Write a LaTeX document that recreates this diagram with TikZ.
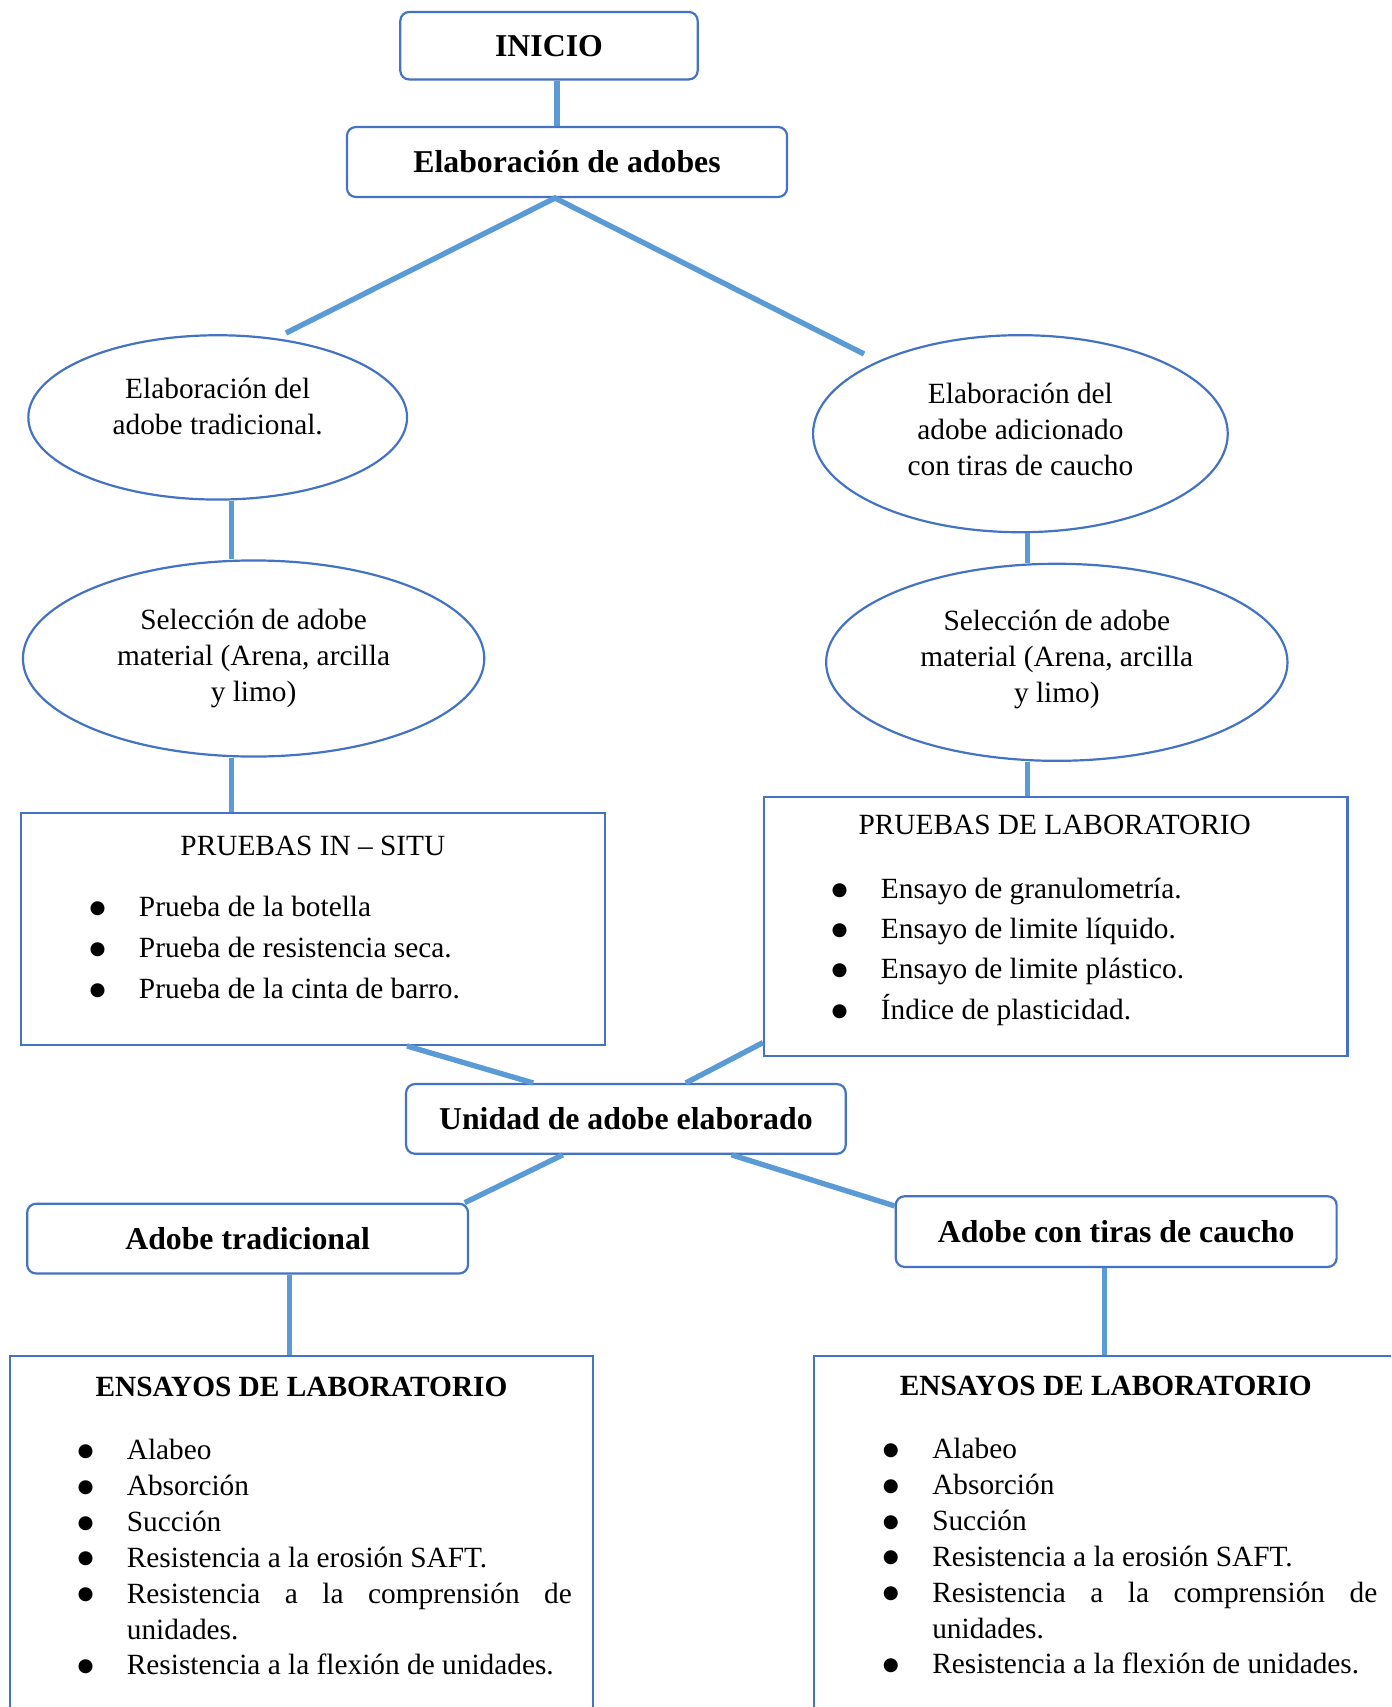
\documentclass[tikz,border=0pt]{standalone}
\usepackage{fontspec}
\setmainfont{Liberation Serif}
\newfontfamily\symfont{DejaVu Sans}
\usetikzlibrary{shapes.geometric}
\definecolor{linea}{HTML}{5B9BD5}
\definecolor{borde}{HTML}{4472C4}
\newcommand\bul{\hspace*{2.1pt}\makebox[0pt]{\raisebox{1.3pt}{\symfont\fontsize{7.5}{7.5}\selectfont ●}}}
\tikzset{
  conn/.style={draw=linea,line width=2.2pt},
  caja/.style={draw=borde,line width=0.9pt,rounded corners=3.6pt,inner sep=0pt,font=\fontsize{13}{15}\selectfont\bfseries},
  elip/.style={draw=borde,line width=0.9pt,ellipse,inner sep=0pt,align=center,font=\fontsize{12}{14.7}\selectfont},
  marco/.style={draw=borde,line width=0.9pt,inner sep=0pt},
  titulo/.style={inner sep=0pt,anchor=base,font=\fontsize{12}{14.7}\selectfont},
  lista/.style={inner sep=0pt,anchor=base west,font=\fontsize{12}{14.7}\selectfont},
}

\begin{document}
\begin{tikzpicture}[x=0.409pt,y=-0.409pt]
\useasboundingbox (0,0) rectangle (1391,1707);
\clip (0,0) rectangle (1391,1707);
\node[caja,minimum width=121.6pt,minimum height=27.6pt] (inicio) at (549,45.7) {INICIO}; % inicio
\node[caja,minimum width=180pt,minimum height=28.6pt] (elab) at (567,162) {Elaboración de adobes}; % elab
\node[elip,minimum width=154.9pt,minimum height=67.2pt,text depth=9pt] (ell1) at (217.7,417.4) {Elaboración del\\adobe tradicional.}; % ell1
\node[elip,minimum width=169.6pt,minimum height=80.6pt,text depth=3.6pt] (ell2) at (1020.4,433.7) {Elaboración del\\adobe adicionado\\con tiras de caucho}; % ell2
\node[elip,minimum width=188.7pt,minimum height=80.2pt] (ell3) at (253.6,658.5) {Selección de adobe\\material (Arena, arcilla\\y limo)}; % ell3
\node[elip,minimum width=188.7pt,minimum height=80.6pt,text depth=4.6pt] (ell4) at (1056.8,662.3) {Selección de adobe\\material (Arena, arcilla\\y limo)}; % ell4
\node[marco,minimum width=239pt,minimum height=94.8pt] (insitu) at (312.9,929) {}; % insitu
\node[marco,minimum width=238.6pt,minimum height=105.9pt] (lab) at (1055.8,926.2) {}; % lab
\node[caja,minimum width=179.8pt,minimum height=28.5pt] (unidad) at (625.9,1118.9) {Unidad de adobe elaborado}; % unidad
\node[caja,minimum width=180.3pt,minimum height=28.5pt] (trad) at (247.6,1238.6) {Adobe tradicional}; % trad
\node[caja,minimum width=180.3pt,minimum height=28.9pt] (tiras) at (1116.2,1231.6) {Adobe con tiras de caucho}; % tiras
\node[marco,minimum width=238.6pt,minimum height=165pt] (ens1) at (301.5,1558) {}; % ens1
\node[marco,minimum width=238.6pt,minimum height=165pt] (ens2) at (1105.5,1557.5) {}; % ens2

\node[titulo] (insituT) at (312.9,855.3) {PRUEBAS IN – SITU}; % insitu
\node[lista,font=\fontsize{12}{16.8}\selectfont] (insituL) at (92,916.5) {\begin{tabular}[t]{@{}p{19pt}@{}l@{}}
\bul & Prueba de la botella\\
\bul & Prueba de resistencia seca.\\
\bul & Prueba de la cinta de barro.
\end{tabular}}; % insitu
\node[titulo] (labT) at (1054.7,834.3) {PRUEBAS DE LABORATORIO}; % lab
\node[lista,font=\fontsize{12}{16.5}\selectfont] (labL) at (834,898.3) {\begin{tabular}[t]{@{}p{19pt}@{}l@{}}
\bul & Ensayo de granulometría.\\
\bul & Ensayo de limite líquido.\\
\bul & Ensayo de limite plástico.\\
\bul & Índice de plasticidad.
\end{tabular}}; % lab
\node[titulo,font=\fontsize{12}{14.7}\selectfont\bfseries] (ens1T) at (301.5,1396.7) {ENSAYOS DE LABORATORIO}; % ens1
\node[lista] (ens1L) at (79.9,1459.3) {\begin{tabular}[t]{@{}p{19pt}@{}l@{}}
\bul & Alabeo\\
\bul & Absorción\\
\bul & Succión\\
\bul & Resistencia a la erosión SAFT.\\
\bul & \makebox[182pt][s]{Resistencia a la comprensión de}\\
 & unidades.\\
\bul & Resistencia a la flexión de unidades.
\end{tabular}}; % ens1
\node[titulo,font=\fontsize{12}{14.7}\selectfont\bfseries] (ens2T) at (1105.8,1395.7) {ENSAYOS DE LABORATORIO}; % ens2
\node[lista] (ens2L) at (885.3,1458.3) {\begin{tabular}[t]{@{}p{19pt}@{}l@{}}
\bul & Alabeo\\
\bul & Absorción\\
\bul & Succión\\
\bul & Resistencia a la erosión SAFT.\\
\bul & \makebox[182pt][s]{Resistencia a la comprensión de}\\
 & unidades.\\
\bul & Resistencia a la flexión de unidades.
\end{tabular}}; % ens2

\coordinate (c0) at (557,0);
\coordinate (c1) at (231.8,0);
\coordinate (c2) at (1027.5,0);
\coordinate (c3) at (289.5,0);
\coordinate (c4) at (1104.7,0);
\coordinate (fork) at ([xshift=-4.9pt]elab.south);
\coordinate (tipL) at (286,333);
\coordinate (tipR) at (864,354);
\draw[conn] (c0 |- inicio.south) -- (c0 |- elab.north); % inicio-elab
\draw[conn] (tipL) -- (fork) -- (tipR); % elab-ell
\draw[conn] (c1 |- ell1.south) -- (c1 |- ell3.north); % ell1-ell3
\draw[conn] (c2 |- ell2.south) -- (c2 |- ell4.north); % ell2-ell4
\draw[conn] (c1 |- ell3.south) -- (c1 |- insitu.north); % ell3-insitu
\draw[conn] (c2 |- ell4.south) -- (c2 |- lab.north); % ell4-lab
\draw[conn] ([xshift=38.5pt]insitu.south) -- ([xshift=-37.9pt]unidad.north); % insitu-unidad
\draw[conn] ([yshift=-47.6pt]lab.west) -- ([xshift=24.5pt]unidad.north); % lab-unidad
\draw[conn] ([xshift=-25.8pt]unidad.south) -- ([xshift=-1.8pt]trad.north east); % unidad-trad
\draw[conn] ([xshift=43.2pt]unidad.south) -- ([yshift=10.5pt]tiras.west); % unidad-tiras
\draw[conn] (c3 |- trad.south) -- (c3 |- ens1.north); % trad-ens1
\draw[conn] (c4 |- tiras.south) -- (c4 |- ens2.north); % tiras-ens2
\end{tikzpicture}
\end{document}
